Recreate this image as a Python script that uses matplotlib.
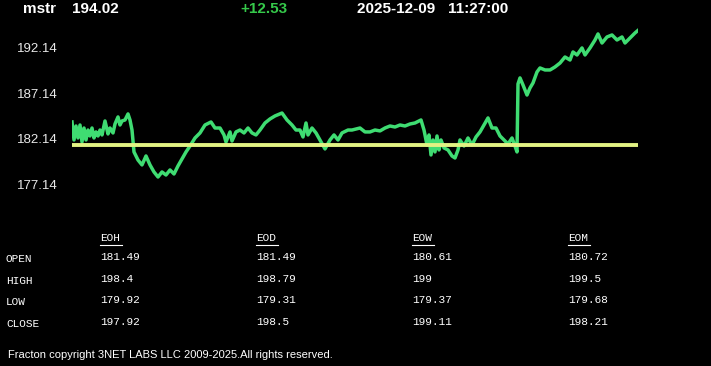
import matplotlib.pyplot as plt
from matplotlib.lines import Line2D

# header info
symbol = 'mstr'
last_price = '194.02'
change = '+12.53'
stamp = '2025-12-09   11:27:00'

# price trace (sample position, price)
t = [0, 2, 4, 6, 8, 10, 12, 14, 16, 18, 20, 22, 24, 26, 28, 30, 33, 36, 38, 41,
     43, 46, 48, 50, 53, 56, 58, 60, 62, 66, 70, 74, 78, 82, 86, 90, 94, 98, 102, 106,
     110, 114, 118, 123, 128, 133, 139, 143, 148, 152, 154, 158, 160, 164, 168, 172, 176, 180, 184, 188,
     193, 198, 203, 210, 215, 220, 224, 228, 231, 234, 236, 240, 244, 248, 253, 258, 262, 266, 270, 276,
     280, 288, 293, 298, 303, 308, 313, 318, 323, 328, 333, 338, 343, 349, 352, 355, 357, 359, 361, 363,
     365, 367, 369, 372, 376, 380, 383, 386, 388, 392, 396, 400, 404, 408, 412, 416, 420, 424, 428, 432,
     436, 440, 443, 445, 446, 448, 451, 455, 458, 461, 465, 468, 473, 478, 483, 488, 493, 498, 501, 505,
     510, 513, 518, 523, 526, 530, 535, 540, 545, 550, 553, 558, 563, 566]
price = [184.00, 182.03, 183.56, 182.25, 183.67, 181.81, 183.34, 182.03, 183.12, 182.47,
         183.34, 182.25, 182.91, 182.47, 183.12, 182.58, 184.11, 182.69, 183.34, 182.80,
         183.78, 184.55, 183.67, 184.11, 184.22, 184.88, 184.22, 183.12, 180.72, 179.84,
         179.30, 180.28, 179.30, 178.53, 177.98, 178.53, 178.20, 178.75, 178.31, 179.19,
         179.95, 180.72, 181.37, 182.25, 182.80, 183.67, 184.00, 183.34, 183.34, 182.58,
         181.81, 182.91, 181.92, 182.91, 183.12, 182.80, 183.34, 182.80, 182.58, 183.12,
         183.89, 184.33, 184.66, 184.98, 184.22, 183.67, 183.12, 183.12, 182.36, 183.89,
         182.58, 183.34, 182.80, 182.03, 181.05, 182.03, 182.58, 182.03, 182.80, 183.12,
         183.12, 183.34, 182.91, 182.91, 183.12, 183.02, 183.34, 183.56, 183.45, 183.67,
         183.56, 183.78, 183.89, 184.22, 183.12, 181.48, 182.58, 180.39, 182.03, 180.72,
         182.47, 180.94, 182.03, 181.16, 180.94, 180.28, 180.06, 180.94, 182.03, 181.37,
         182.25, 181.48, 182.36, 182.91, 183.67, 184.44, 183.34, 183.34, 182.47, 182.03,
         181.59, 182.25, 181.37, 180.72, 188.16, 188.82, 188.05, 186.95, 187.72, 188.27,
         189.47, 189.91, 189.69, 189.69, 190.02, 190.45, 191.11, 190.78, 191.66, 191.33,
         192.10, 191.33, 192.10, 192.97, 193.63, 192.64, 193.30, 193.52, 192.97, 193.30,
         192.64, 193.19, 193.74, 194.02]
open_level = 181.49
y_ticks = [177.14, 182.14, 187.14, 192.14]

# OHLC table
periods = ['EOH', 'EOD', 'EOW', 'EOM']
row_names = ['OPEN', 'HIGH', 'LOW', 'CLOSE']
table = [['181.49', '181.49', '180.61', '180.72'],
         ['198.4', '198.79', '199', '199.5'],
         ['179.92', '179.31', '179.37', '179.68'],
         ['197.92', '198.5', '199.11', '198.21']]
footer = 'Fracton copyright 3NET LABS LLC 2009-2025.All rights reserved.'

W, H = 711, 366
fig = plt.figure(figsize=(W / 100, H / 100), dpi=100, facecolor='black')
narrow = ['Liberation Sans Narrow', 'Liberation Sans', 'DejaVu Sans']
mono = ['Liberation Mono', 'DejaVu Sans Mono']

def fx(px):
    return px / W

def fy(py):
    return 1 - py / H

ax = fig.add_axes([fx(72), fy(195), fx(638) - fx(72), (195 - 25) / H])
ax.set_facecolor('black')
ax.plot(t, price, color='#3fdc72', linewidth=2.5, zorder=2)
ax.axhline(open_level, color='#e2f283', linewidth=2.8, zorder=3)
ax.set_xlim(min(t), max(t))
ax.set_ylim(176.01, 194.61)
ax.set_yticks(y_ticks)
ax.set_yticklabels([f'{v:.2f}' for v in y_ticks], family=['Liberation Sans', 'DejaVu Sans'],
                   fontsize=9.5, color='#e8e8e8')
ax.tick_params(axis='y', length=0, pad=10)
ax.set_xticks([])
for s in ax.spines.values():
    s.set_visible(False)

# header line
hdr = dict(color='white', fontsize=11, fontweight='bold', family=narrow, va='center')
fig.text(fx(23), fy(9), symbol, **hdr)
fig.text(fx(72), fy(9), last_price, **hdr)
fig.text(fx(240), fy(9), change, **{**hdr, 'color': '#35c94a'})
fig.text(fx(357), fy(9), stamp, **hdr)

# table
col_x = [100, 256, 412, 568]
row_y = [259, 281, 302, 324]
cell = dict(color='white', fontsize=8, family=mono, va='center')
for j, p in enumerate(periods):
    fig.text(fx(col_x[j]), fy(238), p, **cell)
    fig.add_artist(Line2D([fx(col_x[j]), fx(col_x[j] + 22)], [fy(245), fy(245)],
                          color='white', linewidth=0.8))
for i, r in enumerate(row_names):
    fig.text(fx(6), fy(row_y[i]), r, **cell)
    for j in range(len(periods)):
        fig.text(fx(col_x[j]), fy(row_y[i] - 2), table[i][j], **cell)

fig.text(fx(8), fy(355), footer, color='white', fontsize=8, family=narrow, va='center')

fig.savefig('out.png', dpi=100, facecolor='black')
